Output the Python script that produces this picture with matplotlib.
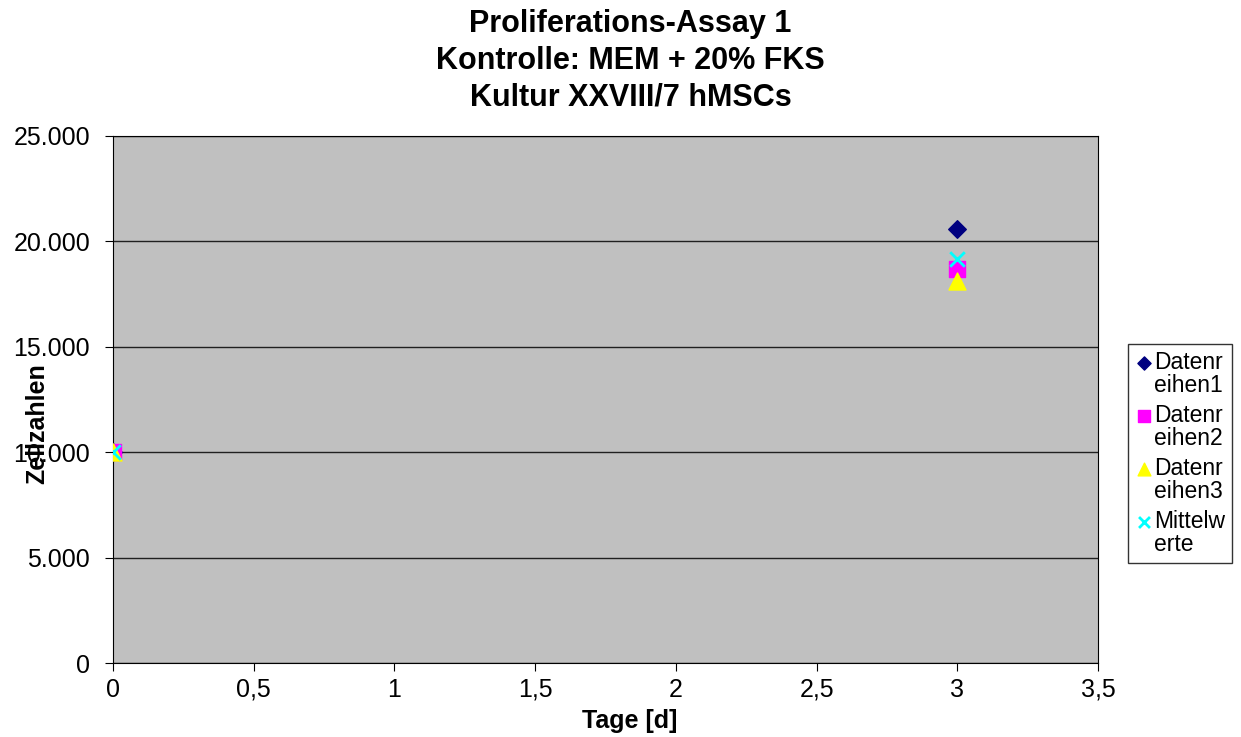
import matplotlib
matplotlib.use("Agg")
import matplotlib.pyplot as plt
from matplotlib.ticker import FuncFormatter, MultipleLocator
from matplotlib.collections import PathCollection
from matplotlib.legend_handler import HandlerPathCollection

plt.rcParams['font.family'] = ['Liberation Sans', 'DejaVu Sans']

days = [0, 3]
reihe1 = [10000, 20600]
reihe2 = [10000, 18700]
reihe3 = [10000, 18100]
mittelwerte = [10000, 19150]
labels = ["Datenr\neihen1", "Datenr\neihen2", "Datenr\neihen3", "Mittelw\nerte"]

fig = plt.figure(figsize=(12.41, 7.37), dpi=100)
ax = fig.add_axes([0.0911, 0.1004, 0.7937, 0.7151])
ax.set_facecolor('#C0C0C0')

ax.scatter(days, reihe1, marker='D', s=80, color='#000080', label=labels[0], zorder=3)
ax.scatter(days, reihe2, marker='s', s=130, color='#FF00FF', label=labels[1], zorder=3)
ax.scatter(days, reihe3, marker='^', s=150, color='#FFFF00', label=labels[2], zorder=3)
ax.scatter(days, mittelwerte, marker='x', s=110, color='#00FFFF', linewidths=2, label=labels[3], zorder=4)

ax.set_xlim(0, 3.5)
ax.set_ylim(0, 25000)
ax.xaxis.set_major_locator(MultipleLocator(0.5))
ax.yaxis.set_major_locator(MultipleLocator(5000))
ax.xaxis.set_major_formatter(FuncFormatter(lambda v, p: ('%g' % v).replace('.', ',')))
ax.yaxis.set_major_formatter(FuncFormatter(lambda v, p: '{:,.0f}'.format(v).replace(',', '.')))
ax.grid(axis='y', color='#202020', linewidth=1)
ax.set_axisbelow(True)
for s in ax.spines.values():
    s.set_color('black')
ax.tick_params(axis='both', labelsize=18, direction='out', length=5.5, color='black')
ax.tick_params(axis='x', pad=5)
ax.tick_params(axis='y', pad=11)

ax.set_xlabel('Tage [d]', fontsize=18, fontweight='bold')
ax.xaxis.set_label_coords(0.525, -0.088)
ax.set_ylabel('Zellzahlen', fontsize=18, fontweight='bold')
ax.yaxis.label.set_va('center')
ax.yaxis.set_label_coords(-0.077, 0.4535)

fig.text(0.508, 0.988, 'Proliferations-Assay 1\nKontrolle: MEM + 20% FKS\nKultur XXVIII/7 hMSCs',
         fontsize=22, fontweight='bold', linespacing=1.3, ha='center', va='top')

leg = ax.legend(loc='upper left', bbox_to_anchor=(1.0305, 0.605), fontsize=16.5,
                frameon=True, fancybox=False, edgecolor='black', handletextpad=0.05,
                handlelength=0.8, borderpad=0.3, labelspacing=0.3, borderaxespad=0,
                markerscale=0.75, scatterpoints=1,
                handler_map={PathCollection: HandlerPathCollection(yoffsets=[1.25])})
for t in leg.get_texts():
    t.set_linespacing(1.0)
leg.get_frame().set_linewidth(1)

fig.savefig('out.png', dpi=100, facecolor='white')
